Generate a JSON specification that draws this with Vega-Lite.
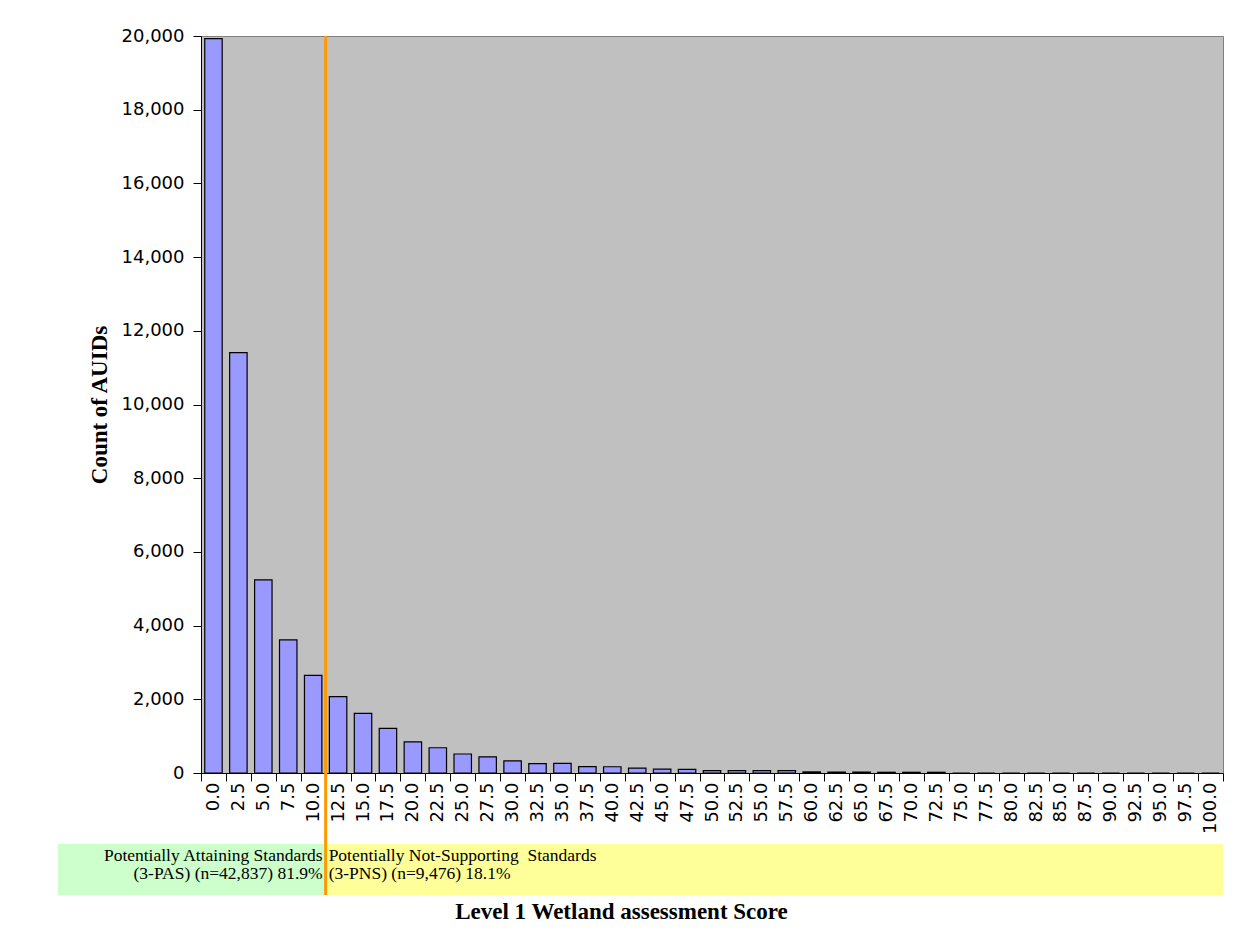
{
  "$schema": "https://vega.github.io/schema/vega-lite/v6.json",
  "background": "white",
  "padding": {"left": 57, "top": 26, "right": 11, "bottom": 8},
  "bounds": "flush",
  "spacing": 71,
  "config": {"view": {"stroke": null}},
  "vconcat": [
    {
      "width": 1022,
      "height": 737,
      "view": {"fill": "#C0C0C0", "stroke": "#808080", "strokeWidth": 1},
      "data": {"values": [
        {"score": "0.0", "count": 19930},
        {"score": "2.5", "count": 11410},
        {"score": "5.0", "count": 5240},
        {"score": "7.5", "count": 3610},
        {"score": "10.0", "count": 2650},
        {"score": "12.5", "count": 2070},
        {"score": "15.0", "count": 1620},
        {"score": "17.5", "count": 1210},
        {"score": "20.0", "count": 845},
        {"score": "22.5", "count": 685},
        {"score": "25.0", "count": 515},
        {"score": "27.5", "count": 440},
        {"score": "30.0", "count": 330},
        {"score": "32.5", "count": 255},
        {"score": "35.0", "count": 260},
        {"score": "37.5", "count": 175},
        {"score": "40.0", "count": 170},
        {"score": "42.5", "count": 135},
        {"score": "45.0", "count": 105},
        {"score": "47.5", "count": 100},
        {"score": "50.0", "count": 65},
        {"score": "52.5", "count": 65},
        {"score": "55.0", "count": 65},
        {"score": "57.5", "count": 65},
        {"score": "60.0", "count": 30},
        {"score": "62.5", "count": 25},
        {"score": "65.0", "count": 25},
        {"score": "67.5", "count": 20},
        {"score": "70.0", "count": 20},
        {"score": "72.5", "count": 20},
        {"score": "75.0", "count": 0},
        {"score": "77.5", "count": 0},
        {"score": "80.0", "count": 0},
        {"score": "82.5", "count": 0},
        {"score": "85.0", "count": 0},
        {"score": "87.5", "count": 0},
        {"score": "90.0", "count": 0},
        {"score": "92.5", "count": 0},
        {"score": "95.0", "count": 0},
        {"score": "97.5", "count": 0},
        {"score": "100.0", "count": 0}
      ]},
      "layer": [
        {
          "mark": {"type": "bar", "fill": "#9999FF", "stroke": "#000000", "strokeWidth": 1.2, "width": {"band": 0.7}},
          "encoding": {
            "x": {
              "field": "score", "type": "ordinal",
              "scale": {"domain": ["0.0","2.5","5.0","7.5","10.0","12.5","15.0","17.5","20.0","22.5","25.0","27.5","30.0","32.5","35.0","37.5","40.0","42.5","45.0","47.5","50.0","52.5","55.0","57.5","60.0","62.5","65.0","67.5","70.0","72.5","75.0","77.5","80.0","82.5","85.0","87.5","90.0","92.5","95.0","97.5","100.0"], "paddingInner": 0, "paddingOuter": 0},
              "axis": {"title": null, "labelAngle": -90, "tickBand": "extent", "labelOverlap": false, "labelFont": "DejaVu Sans", "labelFontSize": 18, "labelColor": "#000000", "tickColor": "#000000", "domainColor": "#000000", "tickSize": 8, "labelPadding": 1, "grid": false}
            },
            "y": {
              "field": "count", "type": "quantitative",
              "scale": {"domain": [0, 20000], "nice": false},
              "axis": {"title": "Count of AUIDs", "values": [0,2000,4000,6000,8000,10000,12000,14000,16000,18000,20000], "format": ",.0f", "labelFont": "DejaVu Sans", "labelFontSize": 18, "labelColor": "#000000", "tickColor": "#000000", "domainColor": "#000000", "tickSize": 8, "labelPadding": 9, "grid": false, "titleFont": "Liberation Serif", "titleFontSize": 23, "titleFontWeight": "bold", "titleColor": "#000000", "titlePadding": 10}
            }
          }
        },
        {
          "transform": [{"filter": "datum.score === '12.5'"}],
          "mark": {"type": "rule", "color": "#FF9900", "strokeWidth": 3},
          "encoding": {
            "x": {"field": "score", "type": "ordinal", "bandPosition": 0},
            "y": {"datum": 20000},
            "y2": {"datum": -1930}
          }
        }
      ]
    },
    {
      "width": 1022,
      "height": 51,
      "data": {"values": [
        {"class": "PAS", "start": -15.6, "end": 11.25, "label": "Potentially Attaining Standards\n(3-PAS) (n=42,837) 81.9%"},
        {"class": "PNS", "start": 11.25, "end": 101.25, "label": "Potentially Not-Supporting\u00a0 Standards\n(3-PNS) (n=9,476) 18.1%"}
      ]},
      "encoding": {
        "x": {
          "field": "start", "type": "quantitative",
          "scale": {"domain": [-1.25, 101.25], "nice": false, "zero": false},
          "axis": {"title": "Level 1 Wetland assessment Score", "labels": false, "ticks": false, "domain": false, "grid": false, "titleFont": "Liberation Serif", "titleFontSize": 23, "titleFontWeight": "bold", "titleColor": "#000000", "titlePadding": 5, "titleX": 420, "titleAlign": "center"}
        }
      },
      "layer": [
        {
          "mark": {"type": "rect"},
          "encoding": {
            "x2": {"field": "end"},
            "color": {"field": "class", "type": "nominal", "scale": {"domain": ["PAS", "PNS"], "range": ["#CCFFCC", "#FFFF99"]}, "legend": null}
          }
        },
        {
          "transform": [{"filter": "datum.class === 'PNS'"}],
          "mark": {"type": "rule", "color": "#FF9900", "strokeWidth": 3},
          "encoding": {}
        },
        {
          "transform": [{"filter": "datum.class === 'PAS'"}],
          "mark": {"type": "text", "font": "Liberation Serif", "fontSize": 17.5, "lineBreak": "\n", "lineHeight": 18, "align": "right", "dx": -3, "dy": -14, "color": "#000000"},
          "encoding": {"x": {"field": "end", "type": "quantitative"}, "text": {"field": "label"}}
        },
        {
          "transform": [{"filter": "datum.class === 'PNS'"}],
          "mark": {"type": "text", "font": "Liberation Serif", "fontSize": 17.5, "lineBreak": "\n", "lineHeight": 18, "align": "left", "dx": 3, "dy": -14, "color": "#000000"},
          "encoding": {"text": {"field": "label"}}
        }
      ]
    }
  ]
}
